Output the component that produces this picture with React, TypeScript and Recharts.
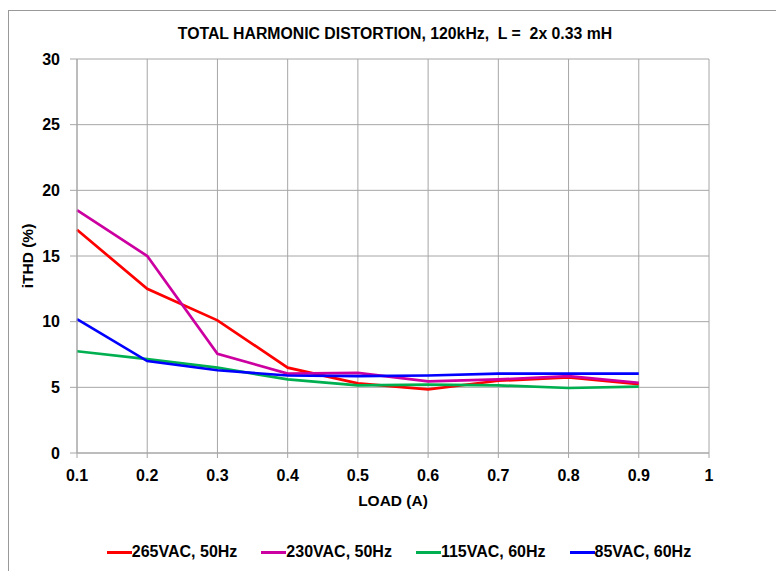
import React from 'react';
import { LineChart, Line, XAxis, YAxis, CartesianGrid, Legend, Label } from 'recharts';

const loads = [0.1, 0.2, 0.3, 0.4, 0.5, 0.6, 0.7, 0.8, 0.9];
const thd265 = [17.0, 12.5, 10.1, 6.5, 5.3, 4.85, 5.5, 5.75, 5.25];
const thd230 = [18.5, 15.0, 7.55, 6.05, 6.1, 5.45, 5.6, 5.85, 5.35];
const thd115 = [7.75, 7.15, 6.5, 5.6, 5.15, 5.2, 5.15, 4.95, 5.05];
const thd85 = [10.2, 7.0, 6.3, 5.9, 5.85, 5.9, 6.05, 6.05, 6.05];
const xTicks = [0.1, 0.2, 0.3, 0.4, 0.5, 0.6, 0.7, 0.8, 0.9, 1];
const yTicks = [0, 5, 10, 15, 20, 25, 30];

const series = [
  { key: 'v265', name: '265VAC, 50Hz', color: '#ff0000' },
  { key: 'v230', name: '230VAC, 50Hz', color: '#cc00a0' },
  { key: 'v115', name: '115VAC, 60Hz', color: '#00b050' },
  { key: 'v85', name: '85VAC, 60Hz', color: '#0000ff' },
];

const data = loads.map((load, i) => ({
  load,
  v265: thd265[i],
  v230: thd230[i],
  v115: thd115[i],
  v85: thd85[i],
}));

const FONT = '"Liberation Sans", Arial, sans-serif';
const GRID = '#a6a6a6';

// keep legend in series order (recharts sorts it by name otherwise)
const LegendContent = ({ payload }: any) => {
  const items = [...(payload || [])].sort(
    (a: any, b: any) => series.findIndex((s) => s.name === a.value) - series.findIndex((s) => s.name === b.value)
  );
  return (
    <div style={{ display: 'flex', justifyContent: 'center', gap: 24, fontFamily: FONT, fontWeight: 'bold', fontSize: 16, color: '#000', paddingLeft: 22 }}>
      {items.map((p: any) => (
        <div key={p.value} style={{ display: 'flex', alignItems: 'center' }}>
          <div style={{ width: 25, height: 3, background: p.color }} />
          <span>{p.value}</span>
        </div>
      ))}
    </div>
  );
};

const App = () => {
  return (
    <div style={{ position: 'absolute', left: 0, top: 0, width: 776, height: 571, background: '#fff', overflow: 'hidden' }}>
      <div style={{ position: 'absolute', left: 8, top: 10, width: 800, height: 600, borderLeft: '1px solid #999', borderTop: '1px solid #999' }} />
      <div style={{ position: 'absolute', left: 0, top: 25, width: 790, textAlign: 'center', fontFamily: FONT, fontWeight: 'bold', fontSize: 15.8, whiteSpace: 'pre' }}>
        {'TOTAL HARMONIC DISTORTION, 120kHz,  L =  2x 0.33 mH'}
      </div>
      <div style={{ position: 'absolute', left: 0, top: 0 }}>
        <LineChart width={776} height={571} data={data} margin={{ top: 59, right: 67, bottom: 0, left: 0 }}>
          <CartesianGrid stroke={GRID} strokeWidth={1} />
          <XAxis
            dataKey="load"
            type="number"
            domain={[0.1, 1]}
            ticks={xTicks}
            height={118}
            tickSize={5}
            tickMargin={12}
            stroke={GRID}
            tick={{ fill: '#000', fontFamily: FONT, fontWeight: 'bold', fontSize: 16 }}
          >
            <Label value="LOAD (A)" position="insideTop" offset={42} style={{ fill: '#000', fontFamily: FONT, fontWeight: 'bold', fontSize: 15.5 }} />
          </XAxis>
          <YAxis
            type="number"
            domain={[0, 30]}
            ticks={yTicks}
            width={77}
            tickSize={7}
            tickMargin={10}
            stroke={GRID}
            tick={{ fill: '#000', fontFamily: FONT, fontWeight: 'bold', fontSize: 16 }}
          >
            <Label value="iTHD (%)" angle={-90} position="insideLeft" offset={27} style={{ textAnchor: 'middle', fill: '#000', fontFamily: FONT, fontWeight: 'bold', fontSize: 15.5 }} />
          </YAxis>
          <Legend
            layout="horizontal"
            verticalAlign="middle"
            align="center"
            wrapperStyle={{ top: 543, left: 0, width: 776 }}
            content={<LegendContent />}
          />
          {series.map((s) => (
            <Line
              key={s.key}
              dataKey={s.key}
              name={s.name}
              stroke={s.color}
              strokeWidth={2.7}
              dot={false}
              type="linear"
              isAnimationActive={false}
            />
          ))}
        </LineChart>
      </div>
    </div>
  );
};

export default App;
